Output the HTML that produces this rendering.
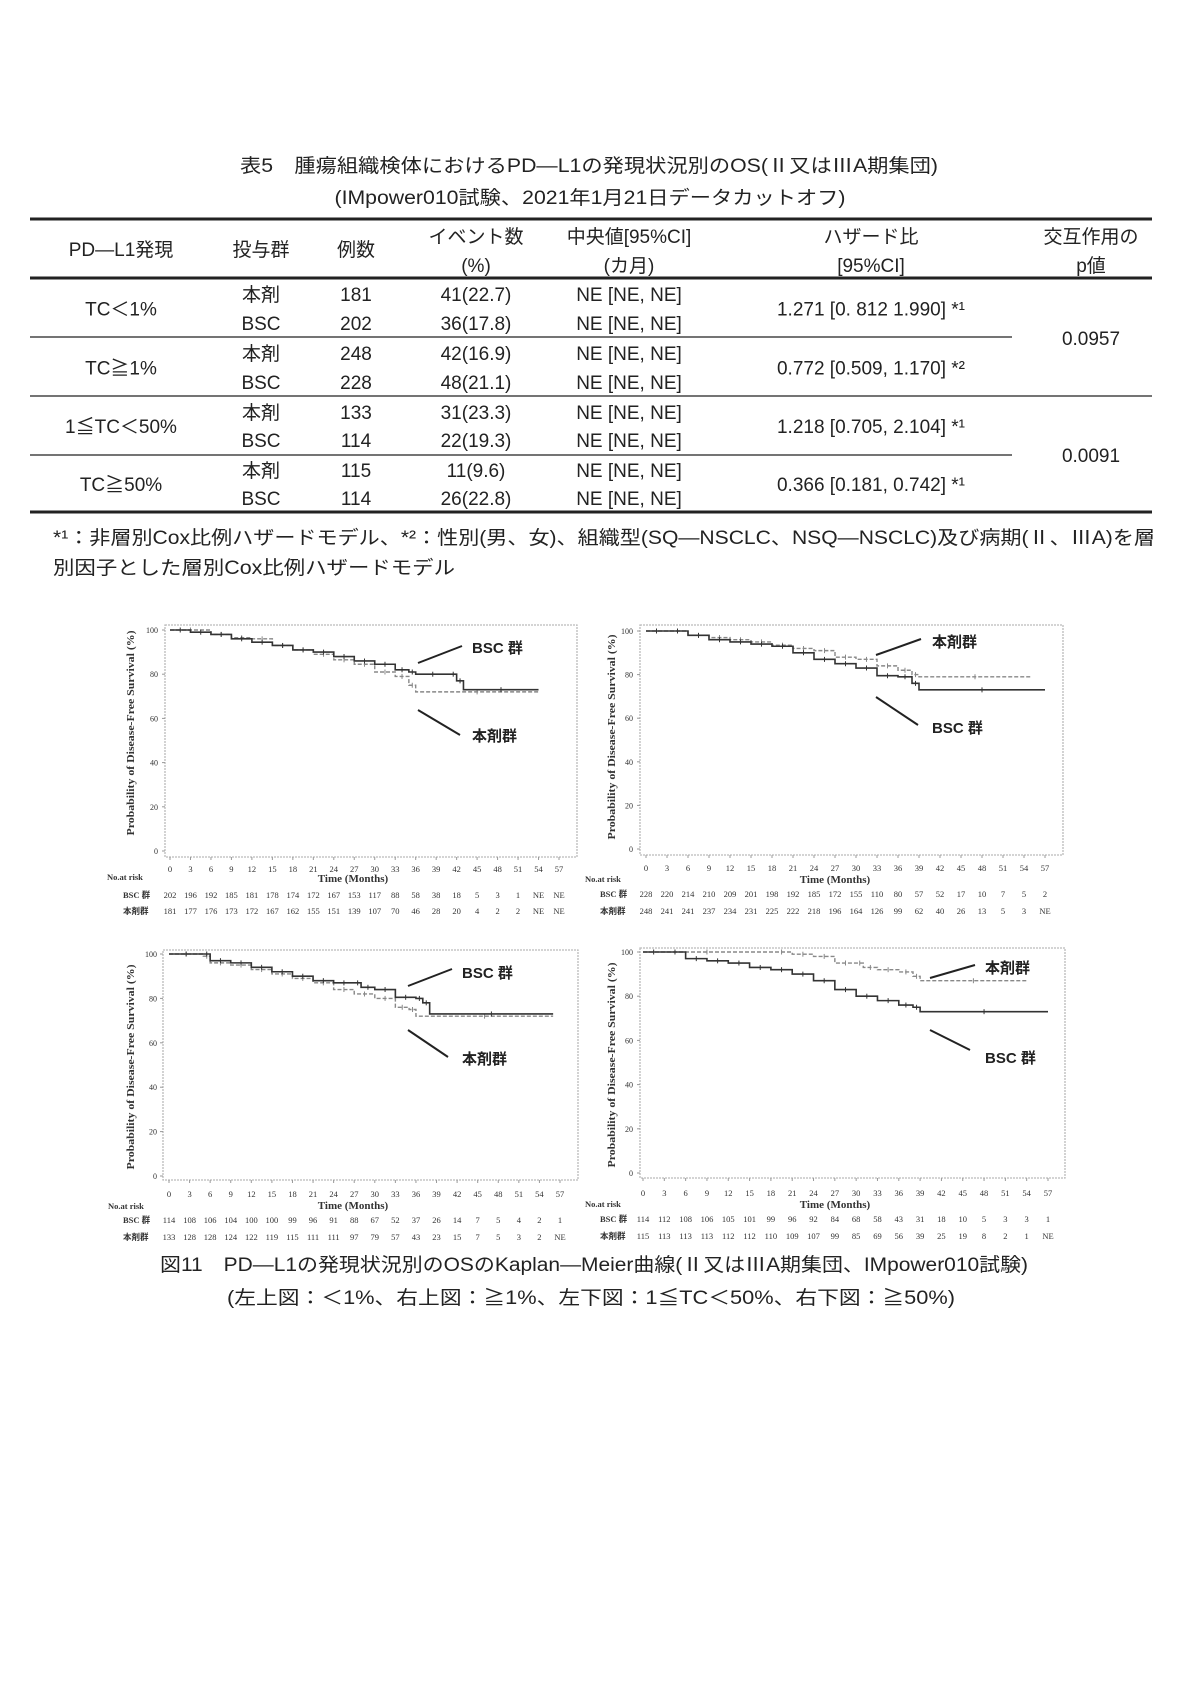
<!DOCTYPE html>
<html><head><meta charset="utf-8"><style>
html,body{margin:0;padding:0;background:#fff;}
svg{display:block;}
.jp{font-family:"Liberation Sans","Noto Sans CJK JP",sans-serif;fill:#222;}
.sr{font-family:"Liberation Serif","Noto Sans CJK JP",serif;fill:#333;}
</style></head><body>
<svg id="page" width="1181" height="1695" viewBox="0 0 1181 1695" xmlns="http://www.w3.org/2000/svg">
<g class="jp" font-size="19">
<text x="589" y="172" text-anchor="middle" textLength="698" lengthAdjust="spacingAndGlyphs">表5　腫瘍組織検体におけるPD―L1の発現状況別のOS(Ⅱ又はⅢA期集団)</text>
<text x="590" y="204" text-anchor="middle" textLength="511" lengthAdjust="spacingAndGlyphs">(IMpower010試験、2021年1月21日データカットオフ)</text>
</g>
<g stroke="#222">
<line x1="30" y1="219" x2="1152" y2="219" stroke-width="3"/>
<line x1="30" y1="278" x2="1152" y2="278" stroke-width="3"/>
<line x1="30" y1="337" x2="1012" y2="337" stroke-width="1.2"/>
<line x1="30" y1="396" x2="1152" y2="396" stroke-width="1.2"/>
<line x1="30" y1="455" x2="1012" y2="455" stroke-width="1.2"/>
<line x1="30" y1="512" x2="1152" y2="512" stroke-width="3"/>
</g>
<g id="table" class="jp" font-size="19" text-anchor="middle"></g>
<g class="jp" font-size="19">
<text x="53" y="544" textLength="1102" lengthAdjust="spacingAndGlyphs">*¹：非層別Cox比例ハザードモデル、*²：性別(男、女)、組織型(SQ―NSCLC、NSQ―NSCLC)及び病期(Ⅱ、ⅢA)を層</text>
<text x="53" y="574" textLength="402" lengthAdjust="spacingAndGlyphs">別因子とした層別Cox比例ハザードモデル</text>
</g>
<g id="charts"></g>
<g class="jp" font-size="19">
<text x="594" y="1271" text-anchor="middle" textLength="868" lengthAdjust="spacingAndGlyphs">図11　PD―L1の発現状況別のOSのKaplan―Meier曲線(Ⅱ又はⅢA期集団、IMpower010試験)</text>
<text x="591" y="1304" text-anchor="middle" textLength="728" lengthAdjust="spacingAndGlyphs">(左上図：＜1%、右上図：≧1%、左下図：1≦TC＜50%、右下図：≧50%)</text>
</g>
</svg>
<script>
// ---- table data ----
const tblGroups=["TC＜1%","TC≧1%","1≦TC＜50%","TC≧50%"];
const tblArm=["本剤","BSC","本剤","BSC","本剤","BSC","本剤","BSC"];
const tblN=["181","202","248","228","133","114","115","114"];
const tblEvents=["41(22.7)","36(17.8)","42(16.9)","48(21.1)","31(23.3)","22(19.3)","11(9.6)","26(22.8)"];
const tblMedian=["NE [NE, NE]","NE [NE, NE]","NE [NE, NE]","NE [NE, NE]","NE [NE, NE]","NE [NE, NE]","NE [NE, NE]","NE [NE, NE]"];
const tblHR=["1.271 [0. 812 1.990] *¹","0.772 [0.509, 1.170] *²","1.218 [0.705, 2.104] *¹","0.366 [0.181, 0.742] *¹"];
const tblP=["0.0957","0.0091"];
const tblHead=[["PD―L1発現"],["投与群"],["例数"],["イベント数","(%)"],["中央値[95%CI]","(カ月)"],["ハザード比","[95%CI]"],["交互作用の","p値"]];

// ---- KM data: TC<1% ----
const tlBscT=[0,3,6,9,12,15,18,21,24,27,30,33,35,36,41,42,43,54];
const tlBscS=[100,99,98,96,94.5,93,91,90,88,86,84.5,82,81,80,80,77,73,73];
const tlHonT=[0,6,9,12,15,18,21,24,27,30,33,35,36,54];
const tlHonS=[100,98,96.5,96,93,91,89,86.5,84.5,81,79,75,72,72];
const tlBscRisk=["202","196","192","185","181","178","174","172","167","153","117","88","58","38","18","5","3","1","NE","NE"];
const tlHonRisk=["181","177","176","173","172","167","162","155","151","139","107","70","46","28","20","4","2","2","NE","NE"];
// ---- TC>=1% ----
const trBscT=[0,3,6,9,12,15,18,21,24,27,30,33,36,38,39,57];
const trBscS=[100,100,98,96,95,94,93,90,87,85,83,79.5,79,76,73,73];
const trHonT=[0,3,6,9,12,15,18,21,24,27,30,33,36,38,39,55];
const trHonS=[100,100,98,97,96,95,93.5,92,91,88,87,84,82,80,79,79];
const trBscRisk=["228","220","214","210","209","201","198","192","185","172","155","110","80","57","52","17","10","7","5","2"];
const trHonRisk=["248","241","241","237","234","231","225","222","218","196","164","126","99","62","40","26","13","5","3","NE"];
// ---- 1<=TC<50% ----
const blBscT=[0,5,6,9,12,15,18,21,24,27,28,30,33,36,37,38,56];
const blBscS=[100,100,97,96,94,92,90,88,87,87,85,84,80.5,80,78,73,73];
const blHonT=[0,5,6,9,12,15,18,21,24,27,30,33,35,36,56];
const blHonS=[100,99,96,95,93,91,89,87,84,82,80,76,75,72,72];
const blBscRisk=["114","108","106","104","100","100","99","96","91","88","67","52","37","26","14","7","5","4","2","1"];
const blHonRisk=["133","128","128","124","122","119","115","111","111","97","79","57","43","23","15","7","5","3","2","NE"];
// ---- TC>=50% ----
const brBscT=[0,3,6,9,12,15,18,21,24,27,30,33,36,38,39,57];
const brBscS=[100,100,97,96,95,93,92,90,87,83,80,78,76,75,73,73];
const brHonT=[0,18,21,24,27,30,31,33,36,38,39,54];
const brHonS=[100,100,99,98,95,95,93,92,91,89,87,87];
const brBscRisk=["114","112","108","106","105","101","99","96","92","84","68","58","43","31","18","10","5","3","3","1"];
const brHonRisk=["115","113","113","113","112","112","110","109","107","99","85","69","56","39","25","19","8","2","1","NE"];

const xTicks=[0,3,6,9,12,15,18,21,24,27,30,33,36,39,42,45,48,51,54,57];
const yTicks=[0,20,40,60,80,100];

const NS="http://www.w3.org/2000/svg";
function mk(tag,attrs,parent,txt){const e=document.createElementNS(NS,tag);for(const k in attrs)e.setAttribute(k,attrs[k]);if(txt!==undefined)e.textContent=txt;parent.appendChild(e);return e;}

// ---- build table ----
const tb=document.getElementById('table');
const colX=[121,261,356,476,629,871,1091];
tblHead.forEach((h,i)=>{
  if(h.length===1){const t=mk('text',{x:colX[i],y:256},tb,h[0]);}
  else{h.forEach((s,j)=>{const t=mk('text',{x:colX[i],y:243+j*29},tb,s);});}
});
const rowY=[301,330,360,389,419,447,477,505];
for(let r=0;r<8;r++){
  [[tblArm,1],[tblN,2],[tblEvents,3],[tblMedian,4]].forEach(([arr,c])=>{
    const t=mk('text',{x:colX[c],y:rowY[r]},tb,arr[r]);
    
    
  });
}
for(let g=0;g<4;g++){
  const y=(rowY[2*g]+rowY[2*g+1])/2;
  const a=mk('text',{x:colX[0],y:y},tb,tblGroups[g]);
  
  
  const b=mk('text',{x:colX[5],y:y},tb,tblHR[g]);
  
  
}
for(let p=0;p<2;p++){
  const t=mk('text',{x:colX[6],y:(rowY[4*p+1]+rowY[4*p+2])/2},tb,tblP[p]);
  
  
}

// ---- charts ----
const charts=[
 {id:'tl',bscT:tlBscT,bscS:tlBscS,honT:tlHonT,honS:tlHonS,bscR:tlBscRisk,honR:tlHonRisk,
  frame:[165,625,577,857],x0:170,x57:559,y100:630,y0:851,tickY:872,noY:880,noX:107,labX:123,bY:898,hY:914,timeX:353,timeY:882,ytX:134,ytY:733,ylX:158,
  lab1:{t:'BSC 群',x:472,y:653,l:[418,663,462,646]},lab2:{t:'本剤群',x:472,y:741,l:[418,710,460,735]}},
 {id:'tr',bscT:trBscT,bscS:trBscS,honT:trHonT,honS:trHonS,bscR:trBscRisk,honR:trHonRisk,
  frame:[640,625,1063,855],x0:646,x57:1045,y100:631,y0:849,tickY:871,noY:882,noX:585,labX:600,bY:897,hY:914,timeX:835,timeY:883,ytX:615,ytY:737,ylX:633,
  lab1:{t:'本剤群',x:932,y:647,l:[876,655,921,639]},lab2:{t:'BSC 群',x:932,y:733,l:[876,697,918,725]}},
 {id:'bl',bscT:blBscT,bscS:blBscS,honT:blHonT,honS:blHonS,bscR:blBscRisk,honR:blHonRisk,
  frame:[163,950,578,1180],x0:169,x57:560,y100:954,y0:1176,tickY:1197,noY:1209,noX:108,labX:123,bY:1223,hY:1240,timeX:353,timeY:1209,ytX:134,ytY:1067,ylX:157,
  lab1:{t:'BSC 群',x:462,y:978,l:[408,986,452,969]},lab2:{t:'本剤群',x:462,y:1064,l:[408,1030,448,1057]}},
 {id:'br',bscT:brBscT,bscS:brBscS,honT:brHonT,honS:brHonS,bscR:brBscRisk,honR:brHonRisk,
  frame:[640,948,1065,1178],x0:643,x57:1048,y100:952,y0:1173,tickY:1196,noY:1207,noX:585,labX:600,bY:1222,hY:1239,timeX:835,timeY:1208,ytX:615,ytY:1065,ylX:633,
  lab1:{t:'本剤群',x:985,y:973,l:[930,978,975,965]},lab2:{t:'BSC 群',x:985,y:1063,l:[930,1030,970,1050]}}
];
const root=document.getElementById('charts');
charts.forEach(c=>{
  const g=mk('g',{},root);
  
  
  const X=t=>c.x0+(c.x57-c.x0)*t/57;
  const Y=s=>c.y0+(c.y100-c.y0)*s/100;
  const f=c.frame;
  const fr=mk('rect',{x:f[0],y:f[1],width:f[2]-f[0],height:f[3]-f[1],fill:'none',stroke:'#bbb','stroke-width':1.3,'stroke-dasharray':'2 1'},g);
  
  
  yTicks.forEach(v=>{
    const t=mk('text',{x:c.ylX,y:Y(v)+3,'font-size':8,'text-anchor':'end',class:'sr'},g,String(v));
    
    
    mk('line',{x1:f[0]-3,x2:f[0],y1:Y(v),y2:Y(v),stroke:'#999'},g);
  });
  xTicks.forEach(v=>{
    const t=mk('text',{x:X(v),y:c.tickY,'font-size':8.5,'text-anchor':'middle',class:'sr'},g,String(v));
    
    
    mk('line',{x1:X(v),x2:X(v),y1:f[3],y2:f[3]+3,stroke:'#999'},g);
  });
  const yt=mk('text',{x:c.ytX,y:c.ytY,'font-size':10.5,'font-weight':'bold','text-anchor':'middle',class:'sr',transform:`rotate(-90 ${c.ytX} ${c.ytY})`,textLength:205,lengthAdjust:'spacingAndGlyphs'},g,'Probability of Disease-Free Survival (%)');
  
  
  const xt=mk('text',{x:c.timeX,y:c.timeY,'font-size':11,'font-weight':'bold','text-anchor':'middle',class:'sr'},g,'Time (Months)');
  
  
  const nr=mk('text',{x:c.noX,y:c.noY,'font-size':8.5,'font-weight':'bold',class:'sr'},g,'No.at risk');
  
  
  [[c.bscR,c.bY,'BSC 群'],[c.honR,c.hY,'本剤群']].forEach(([arr,y,lab])=>{
    const l=mk('text',{x:c.labX,y:y,'font-size':8.5,'font-weight':'bold',class:'sr'},g,lab);
    
    
    arr.forEach((v,i)=>{
      const t=mk('text',{x:X(xTicks[i]),y:y,'font-size':8.5,'text-anchor':'middle',class:'sr'},g,v);
      
      
    });
  });
  function curve(T,S,color,dash,w,name){
    let d='M'+X(T[0])+' '+Y(S[0]);
    for(let i=1;i<T.length;i++){d+=' H'+X(T[i])+' V'+Y(S[i]);}
    const p=mk('path',{d:d,fill:'none',stroke:color,'stroke-width':w,'stroke-dasharray':dash},g);
    
    
    // censor marks at each plateau end
    for(let i=1;i<T.length;i++){
      const t=(T[i-1]+T[i])/2;
      mk('line',{x1:X(t),x2:X(t),y1:Y(S[i-1])-2.5,y2:Y(S[i-1])+2.5,stroke:color,'stroke-width':1},g);
    }
  }
  curve(c.honT,c.honS,'#888','4 2',1.4,'curve-honzai');
  curve(c.bscT,c.bscS,'#333','',1.6,'curve-bsc');
  [c.lab1,c.lab2].forEach(L=>{
    const ln=mk('line',{x1:L.l[0],y1:L.l[1],x2:L.l[2],y2:L.l[3],stroke:'#222','stroke-width':2},g);
    
    
    const t=mk('text',{x:L.x,y:L.y,'font-size':15,'font-weight':'bold',class:'jp'},g,L.t);
    
    
  });
});
</script>
</body></html>
